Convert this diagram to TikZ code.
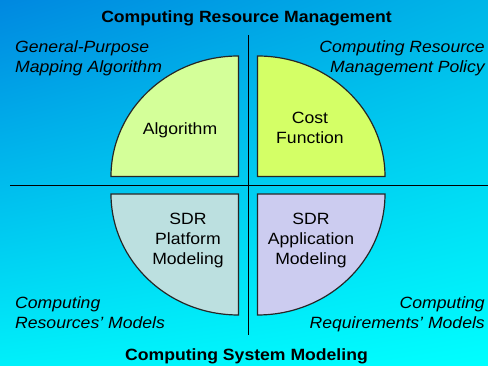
\documentclass[tikz,border=0pt]{standalone}
\usepackage{fontspec}
\usetikzlibrary{shadings}
\setmainfont{Liberation Sans}[FakeStretch=1.08]
\definecolor{bgUL}{RGB}{0,136,224}
\definecolor{bgUR}{RGB}{0,182,232}
\definecolor{bgLL}{RGB}{0,240,250}
\definecolor{bgLR}{RGB}{0,255,255}
\definecolor{qTL}{RGB}{212,255,153}
\definecolor{qTR}{RGB}{212,255,102}
\definecolor{qBL}{RGB}{188,224,224}
\definecolor{qBR}{RGB}{204,204,240}
\begin{document}
\begin{tikzpicture}[x=1pt,y=1pt,
  quarter/.style={draw=black!85,line width=1.2pt},
  axisline/.style={draw=black,line width=0.9pt},
  txt/.style={inner sep=0pt,anchor=base,font=\fontsize{16.3}{20}\selectfont},
  heading/.style={txt,font=\fontsize{16.3}{20}\selectfont\bfseries},
  lab/.style={inner sep=0pt,font=\fontsize{16.3}{20}\selectfont\itshape}]
\useasboundingbox (0,0) rectangle (488,366);
\shade[upper left=bgUL,upper right=bgUR,lower left=bgLL,lower right=bgLR] (0,0) rectangle (488,366);
% axes
\coordinate (vtop) at (248,331);
\coordinate (vbot) at (248,31);
\coordinate (hl) at (10,181);
\coordinate (hr) at (488,181);
\draw[axisline] (vtop) -- (vbot);
\draw[axisline] (hl) -- (hr);
% quarters
\draw[quarter,fill=qTL] (238.5,189.5) -- (111,189.5) arc[start angle=180,end angle=90,x radius=127.5,y radius=120.5] -- cycle;
\draw[quarter,fill=qTR] (257.5,189.5) -- (257.5,310) arc[start angle=90,end angle=0,x radius=127.5,y radius=120.5] -- cycle;
\draw[quarter,fill=qBL] (238.5,172) -- (111,172) arc[start angle=180,end angle=270,x radius=127.5,y radius=121] -- cycle;
\draw[quarter,fill=qBR] (257.5,172) -- (385,172) arc[start angle=0,end angle=-90,x radius=127.5,y radius=121] -- cycle;
% quarter texts
\node[txt] (alg) at (180,231) {Algorithm};
\node[txt] (cost1) at (310,242) {Cost};
\node[txt] (cost2) at (310,222) {Function};
\node[txt] (pl1) at (188,141) {SDR};
\node[txt] (pl2) at (188,121) {Platform};
\node[txt] (pl3) at (188,101) {Modeling};
\node[txt] (ap1) at (311,141) {SDR};
\node[txt] (ap2) at (311,121) {Application};
\node[txt] (ap3) at (311,101) {Modeling};
% headings
\node[heading] (top) at (246.5,343) {Computing Resource Management};
\node[heading] (bot) at (246.5,5) {Computing System Modeling};
% corner labels
\node[lab,anchor=base west] (tl1) at (15,313) {General-Purpose};
\node[lab,anchor=base west] (tl2) at (15,293) {Mapping Algorithm};
\node[lab,anchor=base east] (tr1) at (485,313) {Computing Resource};
\node[lab,anchor=base east] (tr2) at (485,293) {Management Policy};
\node[lab,anchor=base west] (bl1) at (15,57) {Computing};
\node[lab,anchor=base west] (bl2) at (15,37) {Resources’ Models};
\node[lab,anchor=base east] (br1) at (485,57) {Computing};
\node[lab,anchor=base east] (br2) at (485,37) {Requirements’ Models};
\end{tikzpicture}
\end{document}
